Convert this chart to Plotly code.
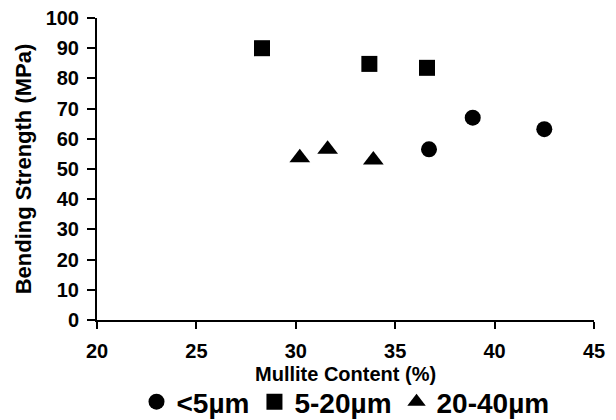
import plotly.graph_objects as go

# Data
series_names = ["<5µm", "5-20µm", "20-40µm"]
small_x = [36.7, 38.9, 42.5]
small_y = [56.5, 67.0, 63.2]
mid_x = [28.3, 33.7, 36.6]
mid_y = [90.0, 84.8, 83.5]
large_x = [30.2, 31.6, 33.9]
large_y = [53.7, 56.5, 53.0]

x_ticks = [20, 25, 30, 35, 40, 45]
y_ticks = [0, 10, 20, 30, 40, 50, 60, 70, 80, 90, 100]
x_title = "Mullite Content (%)"
y_title = "Bending Strength (MPa)"

FONT = "Liberation Sans, Arial, sans-serif"

fig = go.Figure()
fig.add_trace(go.Scatter(x=small_x, y=small_y, mode="markers", name="<b>" + series_names[0] + "</b>",
                         marker=dict(symbol="circle", size=16, color="black")))
fig.add_trace(go.Scatter(x=mid_x, y=mid_y, mode="markers", name="<b>" + series_names[1] + "</b>",
                         marker=dict(symbol="square", size=16, color="black")))
fig.add_trace(go.Scatter(x=large_x, y=large_y, mode="markers", name="<b>" + series_names[2] + "</b>",
                         marker=dict(symbol="triangle-up", size=18, color="black")))

fig.update_layout(
    width=616, height=420,
    margin=dict(l=97, r=22, t=18, b=100, autoexpand=False),
    paper_bgcolor="white", plot_bgcolor="white",
    font=dict(family=FONT, color="black", size=20),
    showlegend=True,
    legend=dict(orientation="h", x=0.5, xref="paper", xanchor="center",
                y=0.043, yref="container", yanchor="middle",
                font=dict(family=FONT, size=28, color="black"),
                itemwidth=30, tracegroupgap=0),
    annotations=[dict(text="<b>" + x_title + "</b>", x=0.5, xref="paper", xanchor="center",
                      y=-0.178, yref="paper", yanchor="middle", showarrow=False,
                      font=dict(family=FONT, size=20, color="black"))],
)
fig.update_xaxes(
    range=[20, 45], tickvals=x_ticks, ticktext=["<b>%d</b>" % v for v in x_ticks],
    showgrid=False, zeroline=False, showline=True, linecolor="black", linewidth=2,
    ticks="outside", ticklen=7, tickwidth=2, tickcolor="black",
    tickfont=dict(family=FONT, size=20, color="black"), ticklabelstandoff=5,
)
fig.update_yaxes(
    range=[0, 100], tickvals=y_ticks, ticktext=["<b>%d</b>" % v for v in y_ticks],
    showgrid=False, zeroline=False, showline=True, linecolor="black", linewidth=2,
    ticks="outside", ticklen=8, tickwidth=2, tickcolor="black",
    tickfont=dict(family=FONT, size=20, color="black"), ticklabelstandoff=4,
    title=dict(text="<b>" + y_title + "</b>", font=dict(family=FONT, size=22, color="black"), standoff=8),
)

fig.write_html("out.html")
